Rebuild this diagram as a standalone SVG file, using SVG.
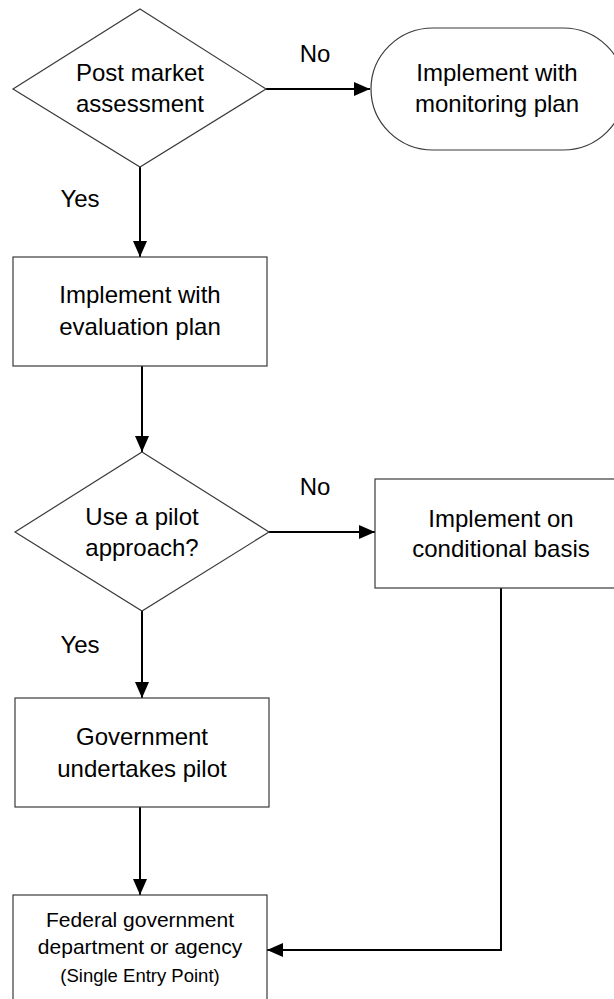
<svg xmlns="http://www.w3.org/2000/svg" width="614" height="999" viewBox="0 0 614 999">
<style>
.shape{fill:#ffffff;stroke:#3a3a3a;stroke-width:1.2}
.conn{fill:none;stroke:#000000;stroke-width:2}
.t{font-family:"Liberation Sans",Arial,sans-serif;font-size:24px;fill:#000000;text-anchor:middle}
.t2{font-family:"Liberation Sans",Arial,sans-serif;font-size:21px;fill:#000000;text-anchor:middle}
.t3{font-family:"Liberation Sans",Arial,sans-serif;font-size:18.5px;fill:#000000;text-anchor:middle}
</style>
<defs>
<marker id="arrow" markerUnits="userSpaceOnUse" markerWidth="16" markerHeight="14" refX="16" refY="7" orient="auto">
<path d="M0,0 L16,7 L0,14 Z" fill="#000000"/>
</marker>
</defs>
<rect width="614" height="999" fill="#ffffff"/>
<g id="connectors">
<path class="conn" d="M140,167 L140,257" marker-end="url(#arrow)"/>
<path class="conn" d="M266,89 L370,89" marker-end="url(#arrow)"/>
<path class="conn" d="M142,366 L142,452" marker-end="url(#arrow)"/>
<path class="conn" d="M269,532 L375,532" marker-end="url(#arrow)"/>
<path class="conn" d="M142,611 L142,698" marker-end="url(#arrow)"/>
<path class="conn" d="M140,807 L140,895" marker-end="url(#arrow)"/>
<path class="conn" d="M501,588 L501,950 L267,950" marker-end="url(#arrow)"/>
</g>
<g id="post-market">
<polygon class="shape" points="140,9 266,89 140,167 13,89"/>
<text class="t" x="140" y="81">Post market</text>
<text class="t" x="140" y="112">assessment</text>
</g>
<g id="label-no-1"><text class="t" x="315" y="62">No</text></g>
<g id="label-yes-1"><text class="t" x="80" y="207">Yes</text></g>
<g id="monitoring">
<rect class="shape" x="371" y="28" width="254" height="122" rx="62" ry="61"/>
<text class="t" x="497" y="81">Implement with</text>
<text class="t" x="497" y="112">monitoring plan</text>
</g>
<g id="evaluation">
<rect class="shape" x="13" y="257" width="254" height="109"/>
<text class="t" x="140" y="303">Implement with</text>
<text class="t" x="140" y="335">evaluation plan</text>
</g>
<g id="pilot-decision">
<polygon class="shape" points="142,452 269,532 142,611 15,532"/>
<text class="t" x="142" y="525">Use a pilot</text>
<text class="t" x="142" y="556">approach?</text>
</g>
<g id="label-no-2"><text class="t" x="315" y="495">No</text></g>
<g id="label-yes-2"><text class="t" x="80" y="653">Yes</text></g>
<g id="conditional">
<rect class="shape" x="375" y="479" width="252" height="109"/>
<text class="t" x="501" y="527">Implement on</text>
<text class="t" x="501" y="557">conditional basis</text>
</g>
<g id="gov-pilot">
<rect class="shape" x="15" y="698" width="254" height="109"/>
<text class="t" x="142" y="745">Government</text>
<text class="t" x="142" y="777">undertakes pilot</text>
</g>
<g id="federal">
<rect class="shape" x="13" y="895" width="254" height="120"/>
<text class="t2" x="140" y="927">Federal government</text>
<text class="t2" x="140" y="954">department or agency</text>
<text class="t3" x="140" y="982">(Single Entry Point)</text>
</g>
</svg>
